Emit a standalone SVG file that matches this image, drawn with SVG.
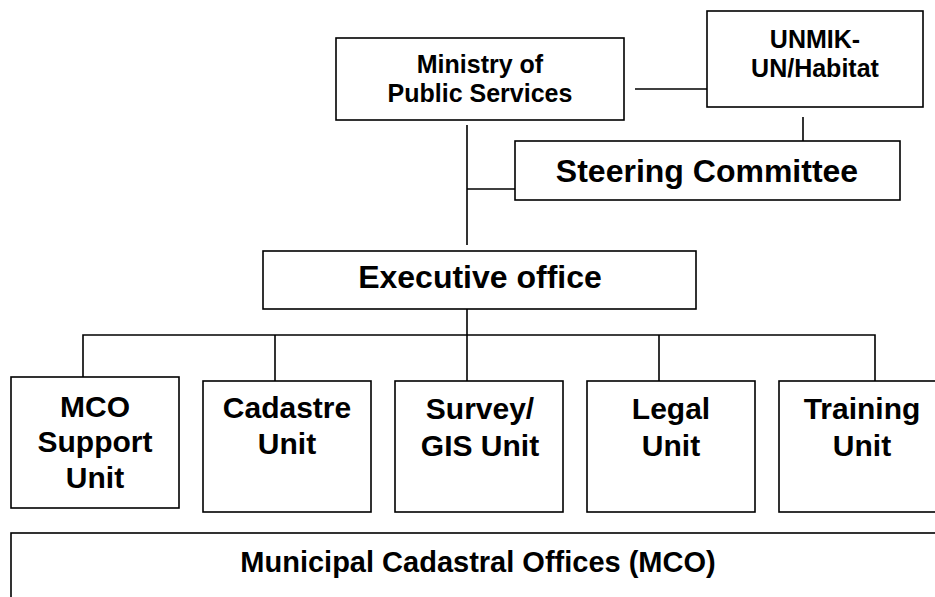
<svg xmlns="http://www.w3.org/2000/svg" width="935" height="597" viewBox="0 0 935 597">
<style>
.box{fill:#fff;stroke:#000;stroke-width:1.6}
.ln{fill:none;stroke:#000;stroke-width:1.6}
text{font-family:"Liberation Sans",Arial,sans-serif;font-weight:bold;fill:#000;text-anchor:middle}
.s25{font-size:25px}
.s32{font-size:32px}
.s30{font-size:30px}
.s29{font-size:29px}
</style>
<rect width="935" height="597" fill="#fff"/>
<g id="connectors">
<line class="ln" x1="635" y1="89" x2="707" y2="89"/>
<line class="ln" x1="803" y1="117" x2="803" y2="141"/>
<line class="ln" x1="467" y1="125" x2="467" y2="245"/>
<line class="ln" x1="467" y1="189" x2="515" y2="189"/>
<line class="ln" x1="467" y1="309" x2="467" y2="335"/>
<polyline class="ln" points="83,383 83,335 875,335 875,384"/>
<line class="ln" x1="275" y1="335" x2="275" y2="384"/>
<line class="ln" x1="467" y1="335" x2="467" y2="384"/>
<line class="ln" x1="659" y1="335" x2="659" y2="384"/>
</g>
<g id="ministry">
<rect class="box" x="336" y="38" width="288" height="82"/>
<text class="s25" x="480" y="73">Ministry of</text>
<text class="s25" x="480" y="102">Public Services</text>
</g>
<g id="unmik">
<rect class="box" x="707" y="11" width="216" height="96"/>
<text class="s25" x="815" y="48">UNMIK-</text>
<text class="s25" x="815" y="77">UN/Habitat</text>
</g>
<g id="steering">
<rect class="box" x="515" y="141" width="385" height="59"/>
<text class="s32" x="707" y="182">Steering Committee</text>
</g>
<g id="executive">
<rect class="box" x="263" y="251" width="433" height="58"/>
<text class="s32" x="480" y="288">Executive office</text>
</g>
<g id="mco-support">
<rect class="box" x="11" y="377" width="168" height="131"/>
<text class="s30" x="95" y="417">MCO</text>
<text class="s30" x="95" y="452">Support</text>
<text class="s30" x="95" y="488">Unit</text>
</g>
<g id="cadastre">
<rect class="box" x="203" y="381" width="168" height="131"/>
<text class="s30" x="287" y="418">Cadastre</text>
<text class="s30" x="287" y="454">Unit</text>
</g>
<g id="survey">
<rect class="box" x="395" y="381" width="168" height="131"/>
<text class="s30" x="480" y="419">Survey/</text>
<text class="s30" x="480" y="456">GIS Unit</text>
</g>
<g id="legal">
<rect class="box" x="587" y="381" width="168" height="131"/>
<text class="s30" x="671" y="419">Legal</text>
<text class="s30" x="671" y="456">Unit</text>
</g>
<g id="training">
<rect class="box" x="779" y="381" width="168" height="131"/>
<text class="s30" x="862" y="419">Training</text>
<text class="s30" x="862" y="456">Unit</text>
</g>
<g id="mco">
<rect class="box" x="11" y="533" width="940" height="80"/>
<text class="s29" x="478" y="572">Municipal Cadastral Offices (MCO)</text>
</g>
</svg>
